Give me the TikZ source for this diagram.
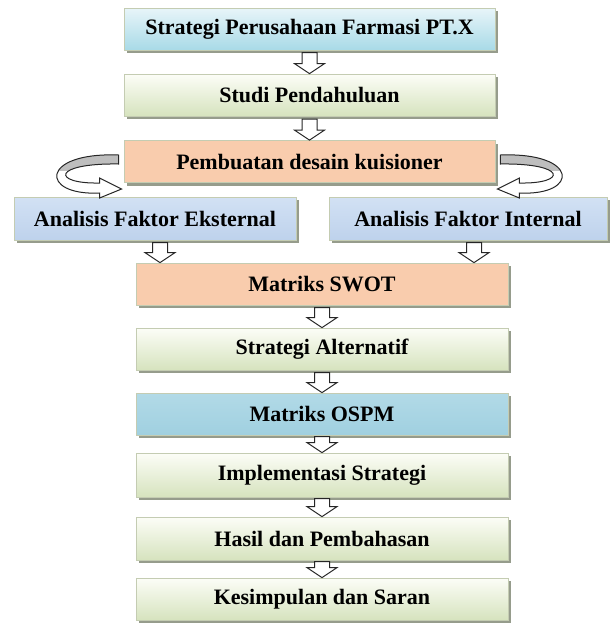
\documentclass[tikz,border=0pt]{standalone}
\usepackage{fontspec}
\setmainfont{Liberation Serif}
\usetikzlibrary{shadows,calc}
\definecolor{edgec}{RGB}{196,204,178}
\definecolor{shadec}{RGB}{150,156,140}
\definecolor{peach}{RGB}{249,204,173}
\definecolor{bluetop}{RGB}{232,245,249}
\definecolor{bluebot}{RGB}{168,218,231}
\definecolor{greentop}{RGB}{252,253,247}
\definecolor{greenbot}{RGB}{214,227,190}
\definecolor{anatop}{RGB}{210,225,244}
\definecolor{anabot}{RGB}{190,210,236}
\definecolor{ospmtop}{RGB}{178,218,231}
\definecolor{ospmbot}{RGB}{160,208,224}
\definecolor{ribbon}{RGB}{190,190,190}
\newcommand{\myuturn}{%
  \path[save path=\uturnpath] (-5,-6.5) .. controls (-84,-9.5) and (-84,34.5) .. (-24,31.5)
    -- (-24,36.5) -- (-2,27.5) -- (-24,16.5) -- (-24,21.5)
    .. controls (-72,22.5) and (-72,1.5) .. (-5,2.5) -- cycle;
  \fill[white, use path=\uturnpath];
  \begin{scope}
    \clip[use path=\uturnpath];
    \fill[ribbon] (-90,-12) rectangle (0,9);
  \end{scope}
  \draw[black!85, line width=1pt, line join=miter, use path=\uturnpath];
}
\tikzset{
  box/.style={draw=edgec, line width=0.8pt, minimum height=42pt, inner sep=0pt,
    font=\bfseries\fontsize{22}{25}\selectfont,
    drop shadow={shadow xshift=3pt, shadow yshift=-3pt, fill=shadec, opacity=1}},
  bluebox/.style={box, top color=bluetop, bottom color=bluebot},
  greenbox/.style={box, top color=greentop, bottom color=greenbot},
  peachbox/.style={box, fill=peach},
  anabox/.style={box, top color=anatop, bottom color=anabot},
  ospmbox/.style={box, top color=ospmtop, bottom color=ospmbot},
  barrow/.style={draw=black!85, line width=1pt, fill=white, line join=miter},
  darr/.pic={\draw[barrow] (-7.5,-#1) -- (7.5,-#1) -- (7.5,-10) -- (15,-10) -- (0,0)
     -- (-15,-10) -- (-7.5,-10) -- cycle;}
}
\begin{document}
\begin{tikzpicture}[x=1pt,y=-1pt]
\useasboundingbox (0,0) rectangle (611,625);
\node[bluebox, minimum width=371pt] (b1) at (309.5,29) {Strategi Perusahaan Farmasi PT.X};
\node[greenbox, minimum width=371pt] (b2) at (309.5,95) {Studi Pendahuluan};
\node[peachbox, minimum width=371pt] (b3) at (309.5,161.5) {Pembuatan desain kuisioner};
\node[anabox, minimum width=282pt, minimum height=43pt] (b4) at (155,218.5) {Analisis Faktor Eksternal};
\node[anabox, minimum width=278pt, minimum height=43pt] (b5) at (468,218.5) {Analisis Faktor Internal};
\node[peachbox, minimum width=372pt] (b6) at (322,284) {Matriks SWOT};
\node[greenbox, minimum width=372pt] (b7) at (322,349) {Strategi Alternatif};
\node[ospmbox, minimum width=372pt] (b8) at (322,414) {Matriks OSPM};
\node[greenbox, minimum width=372pt, minimum height=44pt] (b9) at (322,475) {Implementasi Strategi};
\node[greenbox, minimum width=372pt, minimum height=43pt] (b10) at (322,538.5) {Hasil dan Pembahasan};
\node[greenbox, minimum width=372pt] (b11) at (322,599) {Kesimpulan dan Saran};
% down arrows
\pic at (b2.north) {darr=21};
\pic at (b3.north) {darr=21};
\coordinate (e1) at ($(b4.south)+(5,0)$);
\coordinate (e2) at ($(b5.south)+(6,0)$);
\pic at (e1 |- b6.north) {darr=20};
\pic at (e2 |- b6.north) {darr=20};
\pic at (b7.north) {darr=20};
\pic at (b8.north) {darr=20};
\pic at (b9.north) {darr=16};
\pic at (b10.north) {darr=18};
\pic at (b11.north) {darr=16};
% U-turn arrows
\begin{scope}[shift={(b3.west)}]
  \myuturn
\end{scope}
\begin{scope}[shift={(b3.east)}, xscale=-1]
  \myuturn
\end{scope}
\end{tikzpicture}
\end{document}
